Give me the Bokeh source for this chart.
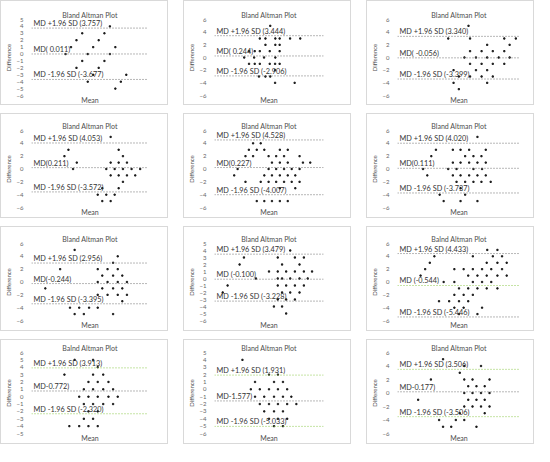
from bokeh.plotting import figure
from bokeh.layouts import gridplot
from bokeh.models import Span, Label, FixedTicker, Range1d
from bokeh.embed import file_html
from bokeh.resources import INLINE

FONT = "Lato"

# ---------------- data ----------------
titles = ["Bland Altman Plot"] * 8 + ["Balnd Altman Plot", "Balnd Altman Plot",
                                      "Bland Altman Plot", "Bland Altman Plot"]

upper_loa = [3.757, 3.444, 3.340, 4.053, 4.528, 4.020, 2.956, 3.479, 4.433, 3.913, 1.931, 3.506]
mean_diff = [0.011, 0.244, -0.056, 0.211, 0.227, 0.111, -0.244, -0.100, -0.544, 0.772, -1.577, 0.177]
lower_loa = [-3.677, -2.906, -3.399, -3.572, -4.007, -3.737, -3.395, -3.228, -5.446, -2.320, -5.033, -3.506]

upper_text = ["MD +1.96 SD (3.757)", "MD +1.96 SD (3.444)", "MD +1.96 SD (3.340)",
              "MD +1.96 SD (4.053)", "MD +1.96 SD (4.528)", "MD +1.96 SD (4.020)",
              "MD +1.96 SD (2.956)", "MD +1.96 SD (3.479)", "MD +1.96 SD (4.433)",
              "MD +1.96 SD (3.913)", "MD +1.96 SD (1.931)", "MD +1.96 SD (3.506)"]
md_text = ["MD( 0.011)", "MD( 0.244)", "MD( -0.056)", "MD(0.211)", "MD(0.227)", "MD(0.111)",
           "MD(-0.244)", "MD (-0.100)", "MD (-0.544)", "MD-0.772)", "MD-1.577)", "MD-0.177)"]
lower_text = ["MD -1.96 SD (-3.677)", "MD -1.96 SD (-2.906)", "MD -1.96 SD (-3.399)",
              "MD -1.96 SD (-3.572)", "MD -1.96 SD (-4.007)", "MD -1.96 SD (-3.737)",
              "MD -1.96 SD (-3.395)", "MD -1.96 SD (-3.228)", "MD -1.96 SD (-5.446)",
              "MD -1.96 SD (-2.320)", "MD -1.96 SD (-5.033)", "MD -1.96 SD (-3.506)"]

# y axis: (min, max, step)
y_axes = [(-6, 5, 1), (-6, 6, 2), (-6, 6, 2), (-6, 6, 2), (-6, 6, 2), (-6, 6, 2),
          (-6, 6, 2), (-6, 5, 1), (-6, 6, 2), (-5, 6, 1), (-6, 5, 1), (-6, 6, 2)]
# x axis extent (arbitrary "mean" units, no tick labels in the reference)
x_axes = [(70, 455), (75, 460), (100, 495), (75, 455), (68, 455), (95, 495),
          (75, 455), (70, 470), (100, 500), (75, 455), (45, 435), (95, 500)]

mean_p1 = [328, 237, 310, 218, 291, 200, 273, 346, 182, 255, 328, 237, 310, 218, 291, 273, 382, 255, 364, 346]
diff_p1 = [4, 3, 3, 2, 2, 1, 1, 1, 0, 0, 0, -1, -1, -2, -2, -3, -3, -4, -4, -5]

mean_p2 = [272, 235, 255, 290, 305, 342, 378, 255, 290, 305, 197, 217, 235, 270, 305, 180, 215, 250, 290,
           197, 217, 235, 270, 289, 305, 289, 232, 255, 272, 289, 358]
diff_p2 = [5, 3, 3, 3, 3, 3, 3, 2, 2, 2, 1, 1, 1, 1, 1, 0, 0, 0, 0,
           -1, -1, -1, -1, -1, -1, -2, -3, -3, -3, -4, -4]

mean_p3 = [328, 263, 333, 443, 480, 388, 460, 333, 370, 406, 443, 315, 352, 388, 425, 460,
           333, 370, 406, 443, 280, 352, 388, 297, 333, 370, 406, 280, 388, 297]
diff_p3 = [5, 3, 3, 3, 3, 2, 2, 1, 1, 1, 1, 0, 0, 0, 0, 0,
           -1, -1, -1, -1, -2, -2, -2, -3, -3, -3, -3, -4, -4, -5]

mean_p4 = [332, 195, 358, 182, 372, 222, 332, 358, 385, 210, 318, 345, 372, 400, 428,
           332, 358, 385, 412, 372, 305, 358, 290, 318, 345, 305, 332]
diff_p4 = [5, 3, 3, 2, 2, 1, 1, 1, 1, 0, 0, 0, 0, 0, 0,
           -1, -1, -1, -1, -2, -3, -3, -4, -4, -4, -5, -5]

mean_p5 = [205, 232, 190, 218, 245, 300, 328, 178, 205, 260, 287, 315, 370, 272, 300, 328, 382, 408,
           150, 260, 287, 315, 342, 370, 138, 245, 272, 300, 328, 355, 178, 232, 260, 287, 315, 342, 370,
           300, 355, 218, 245, 272, 300, 328]
diff_p5 = [4, 4, 3, 3, 3, 3, 3, 2, 2, 2, 2, 2, 2, 1, 1, 1, 1, 1,
           0, 0, 0, 0, 0, 0, -1, -1, -1, -1, -1, -1, -2, -2, -2, -2, -2, -2, -2,
           -3, -3, -5, -5, -5, -5, -5]

mean_p6 = [355, 220, 275, 300, 328, 382, 205, 315, 342, 368, 275, 300, 328, 355, 382,
           178, 260, 287, 342, 370, 192, 275, 300, 328, 355, 382, 287, 315, 342, 368, 398,
           300, 232, 315, 245, 300, 355]
diff_p6 = [5, 3, 3, 3, 3, 3, 2, 2, 2, 2, 1, 1, 1, 1, 1,
           0, 0, 0, 0, 0, -1, -1, -1, -1, -1, -1, -2, -2, -2, -2, -2,
           -3, -4, -4, -5, -5, -5]

mean_p7 = [215, 355, 340, 168, 290, 322, 355, 305, 340, 370, 290, 322, 355, 385,
           120, 305, 340, 370, 290, 322, 355, 385, 370, 200, 230, 262, 290, 215, 245, 340]
diff_p7 = [5, 4, 3, 2, 2, 2, 2, 1, 1, 1, 0, 0, 0, 0,
           -1, -1, -1, -1, -2, -2, -2, -2, -3, -4, -4, -4, -4, -5, -5, -5]

mean_p8 = [348, 178, 302, 365, 398, 162, 318, 382, 270, 302, 333, 365, 398, 428,
           222, 302, 318, 348, 382, 412, 118, 302, 333, 365, 398, 100, 318, 348, 382,
           302, 333, 365, 288, 318, 333]
diff_p8 = [4, 3, 3, 3, 3, 2, 2, 2, 1, 1, 1, 1, 1, 1,
           0, 0, 0, 0, 0, 0, -1, -1, -1, -1, -1, -2, -2, -2, -2,
           -3, -3, -3, -4, -4, -5]

mean_p9 = [392, 425, 220, 345, 410, 440, 205, 390, 425, 455, 190, 285, 315, 345, 375, 405, 440,
           175, 330, 360, 390, 425, 455, 250, 285, 345, 375, 405, 300, 330, 360, 390, 425,
           285, 315, 345, 235, 268, 300, 330, 285, 315, 375, 300, 360]
diff_p9 = [5, 5, 4, 4, 4, 4, 3, 3, 3, 3, 2, 2, 2, 2, 2, 2, 2,
           1, 1, 1, 1, 1, 1, 0, 0, 0, 0, 0, -1, -1, -1, -1, -1,
           -2, -2, -2, -3, -3, -3, -3, -4, -4, -4, -5, -5]

mean_p10 = [215, 275, 290, 182, 275, 308, 260, 290, 325, 245, 275, 308, 340,
            230, 260, 290, 325, 355, 245, 275, 308, 340, 260, 290, 245, 275, 198, 230, 260, 290]
diff_p10 = [5, 5, 4, 3, 3, 3, 2, 2, 2, 1, 1, 1, 1,
            0, 0, 0, 0, 0, -1, -1, -1, -1, -2, -2, -3, -3, -4, -4, -4, -4]

mean_p11 = [145, 240, 272, 190, 258, 290, 175, 207, 240, 272, 305, 190, 223, 258, 290, 320,
            207, 240, 272, 305, 338, 223, 258, 290, 240, 272, 305, 258, 290]
diff_p11 = [4, 2, 2, 1, 1, 1, 0, 0, 0, 0, 0, -1, -1, -1, -1, -1,
            -2, -2, -2, -2, -2, -3, -3, -3, -4, -4, -4, -5, -5]

mean_p12 = [245, 315, 370, 300, 205, 315, 342, 398, 328, 355, 382, 315, 342, 370, 398,
            163, 328, 355, 382, 315, 342, 370, 398, 300, 382, 232, 287, 315, 245, 272, 355]
diff_p12 = [5, 4, 4, 3, 2, 2, 2, 2, 1, 1, 1, 0, 0, 0, 0,
            -1, -1, -1, -1, -2, -2, -2, -2, -3, -3, -4, -4, -4, -5, -5, -5]

means = [mean_p1, mean_p2, mean_p3, mean_p4, mean_p5, mean_p6,
         mean_p7, mean_p8, mean_p9, mean_p10, mean_p11, mean_p12]
diffs = [diff_p1, diff_p2, diff_p3, diff_p4, diff_p5, diff_p6,
         diff_p7, diff_p8, diff_p9, diff_p10, diff_p11, diff_p12]

# ---------------- styling ----------------
GRAY = "#707070"
GREEN = "#8cc84b"
line_colors = [(GRAY, GRAY, GRAY)] * 8 + [(GRAY, GREEN, GRAY), (GREEN, GRAY, GREEN),
                                          (GREEN, GRAY, GREEN), (GREEN, GRAY, GREEN)]
# frame borders (left, right, top, bottom)
borders = [(20, 21, 17, 9), (21, 21, 18, 10), (23, 15, 17, 8), (22, 21, 16, 12),
           (19, 22, 16, 11), (22, 15, 15, 10), (22, 21, 15, 12), (19, 17, 16, 12),
           (23, 13, 15, 10), (22, 21, 11, 11), (11, 29, 10, 12), (22, 13, 11, 10)]

W, H = 168, 105


def make_panel(i):
    ymin, ymax, step = y_axes[i]
    bl, br, bt, bb = borders[i]
    p = figure(width=W, height=H, output_backend="svg", toolbar_location=None,
               x_range=Range1d(*x_axes[i]), y_range=Range1d(ymin, ymax),
               min_border_left=bl, min_border_right=br,
               min_border_top=bt, min_border_bottom=bb)
    p.styles = {"border": "1px solid #d9d9d9", "box-sizing": "border-box"}
    p.title.text = titles[i]
    p.title.align = "center"
    p.title.text_font = FONT
    p.title.text_font_size = "7px"
    p.title.text_font_style = "normal"
    p.title.text_color = "#4d4d4d"
    p.title.standoff = 2
    p.grid.visible = False
    p.outline_line_color = None

    ya = p.yaxis[0]
    ya.ticker = FixedTicker(ticks=list(range(ymin, ymax + 1, step)))
    ya.axis_line_color = None
    ya.major_tick_line_color = None
    ya.minor_tick_line_color = None
    ya.major_label_text_font = FONT
    ya.major_label_text_font_size = "6px"
    ya.major_label_text_color = "#666666"
    ya.major_label_standoff = 2
    ya.axis_label = "Difference"
    ya.axis_label_text_font = FONT
    ya.axis_label_text_font_size = "6px"
    ya.axis_label_text_font_style = "normal"
    ya.axis_label_text_color = "#4d4d4d"
    ya.axis_label_standoff = 2

    xa = p.xaxis[0]
    xa.ticker = FixedTicker(ticks=[])
    xa.axis_line_color = None
    xa.major_tick_line_color = None
    xa.minor_tick_line_color = None
    xa.major_label_text_font_size = "0px"
    xa.major_label_standoff = 0
    xa.axis_label = "Mean"
    xa.axis_label_text_font = FONT
    xa.axis_label_text_font_size = "7px"
    xa.axis_label_text_font_style = "normal"
    xa.axis_label_text_color = "#4d4d4d"
    xa.axis_label_standoff = 0

    cu, cm, cl = line_colors[i]
    for loc, col, txt in ((upper_loa[i], cu, upper_text[i]),
                          (mean_diff[i], cm, md_text[i]),
                          (lower_loa[i], cl, lower_text[i])):
        p.add_layout(Span(location=loc, dimension="width", line_color=col,
                          line_dash="1 2", line_width=1))
        p.add_layout(Label(x=x_axes[i][0], y=loc, x_offset=2, y_offset=0, text=txt,
                           text_font=FONT, text_font_size="7.3px", text_color="#333333",
                           text_baseline="bottom", text_align="left"))

    p.scatter(means[i], diffs[i], marker="square", size=1.3, color="#1a1a1a")
    return p


figs = [make_panel(i) for i in range(12)]
grid = gridplot(figs, ncols=3, toolbar_location=None)
grid.spacing = (8, 15)

open("out.html", "w").write(file_html(grid, INLINE))
